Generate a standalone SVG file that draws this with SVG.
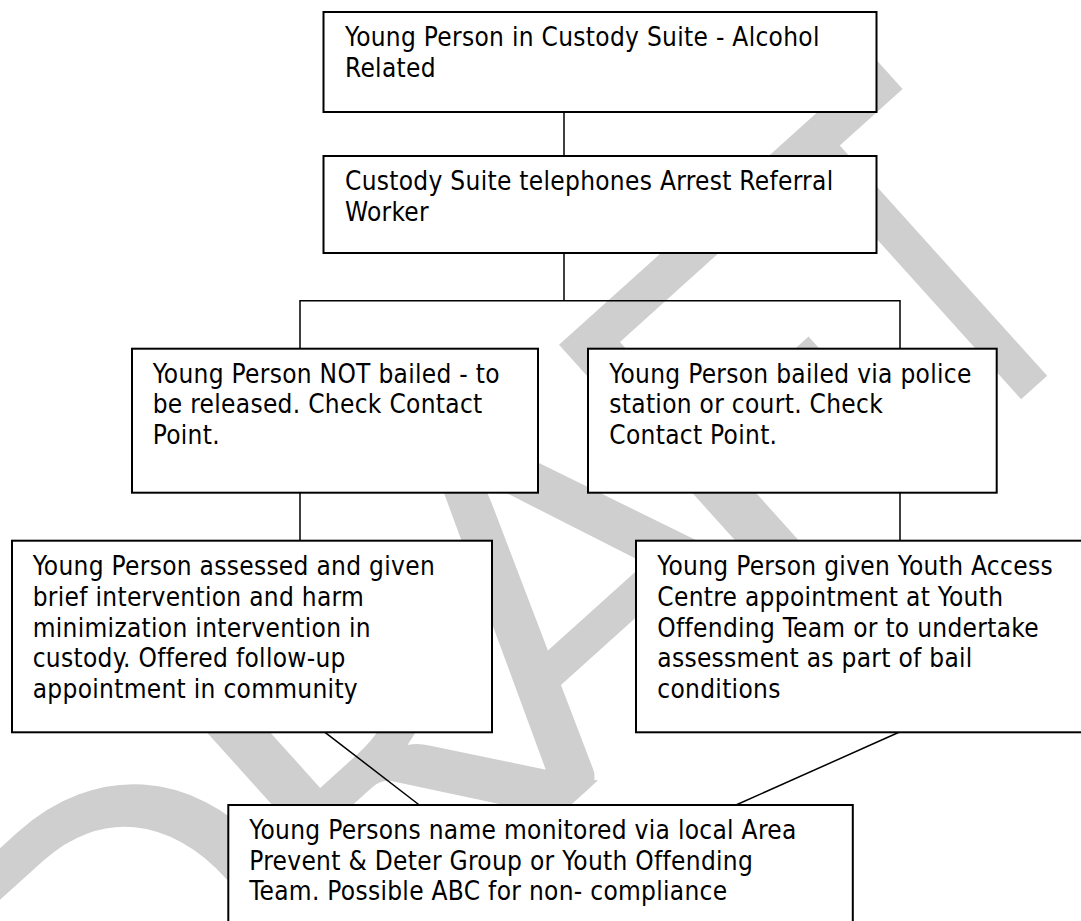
<svg xmlns="http://www.w3.org/2000/svg" width="1081" height="921" viewBox="0 0 1081 921">
<style>
.wm{font-family:Lato,"Open Sans",sans-serif;font-size:488px;fill:#cfcfcf}
.box{fill:#ffffff;stroke:#000000;stroke-width:2}
.lbl{font-family:"DejaVu Sans Condensed","DejaVu Sans",sans-serif;font-stretch:condensed;font-size:26px;letter-spacing:0.3px;fill:#000000}
.conn{fill:none;stroke:#000000;stroke-width:1.5}
</style>
<rect width="1081" height="921" fill="#ffffff"/>
<g id="watermark" transform="rotate(-42)">
<text class="wm" x="-719" y="980">D</text>
<text class="wm" x="-381" y="980">R</text>
<text class="wm" x="-128" y="980">A</text>
<text class="wm" x="140" y="980">F</text>
<text class="wm" x="401.5" y="980" textLength="215" lengthAdjust="spacingAndGlyphs">T</text>
</g>
<g id="connectors">
<path class="conn" d="M564 112V156"/>
<path class="conn" d="M564 253V300.7"/>
<path class="conn" d="M300 348.7V300.7H900V348.7"/>
<path class="conn" d="M300 492.7V540.7"/>
<path class="conn" d="M900 492.7V540.7"/>
<path class="conn" d="M325 732.3L419.3 805"/>
<path class="conn" d="M899 732.3L736 805"/>
</g>
<g id="n1">
<rect class="box" x="323.5" y="12" width="553" height="100"/>
<text class="lbl" x="345" y="46">Young Person in Custody Suite - Alcohol</text>
<text class="lbl" x="345" y="77">Related</text>
</g>
<g id="n2">
<rect class="box" x="323.5" y="156" width="553" height="97"/>
<text class="lbl" x="345" y="190">Custody Suite telephones Arrest Referral</text>
<text class="lbl" x="345" y="221">Worker</text>
</g>
<g id="n3">
<rect class="box" x="132" y="348.7" width="406" height="144"/>
<text class="lbl" x="152.7" y="382.7">Young Person NOT bailed - to</text>
<text class="lbl" x="152.7" y="413.4">be released. Check Contact</text>
<text class="lbl" x="152.7" y="444.1">Point.</text>
</g>
<g id="n4">
<rect class="box" x="588" y="348.7" width="408.7" height="144"/>
<text class="lbl" x="609.3" y="382.7">Young Person bailed via police</text>
<text class="lbl" x="609.3" y="413.4">station or court. Check</text>
<text class="lbl" x="609.3" y="444.1">Contact Point.</text>
</g>
<g id="n5">
<rect class="box" x="12" y="540.7" width="480" height="191.6"/>
<text class="lbl" x="32.7" y="575">Young Person assessed and given</text>
<text class="lbl" x="32.7" y="605.8">brief intervention and harm</text>
<text class="lbl" x="32.7" y="636.6">minimization intervention in</text>
<text class="lbl" x="32.7" y="667.4">custody. Offered follow-up</text>
<text class="lbl" x="32.7" y="698.2">appointment in community</text>
</g>
<g id="n6">
<rect class="box" x="636" y="540.7" width="460" height="191.6"/>
<text class="lbl" x="657.3" y="575">Young Person given Youth Access</text>
<text class="lbl" x="657.3" y="605.8">Centre appointment at Youth</text>
<text class="lbl" x="657.3" y="636.6">Offending Team or to undertake</text>
<text class="lbl" x="657.3" y="667.4">assessment as part of bail</text>
<text class="lbl" x="657.3" y="698.2">conditions</text>
</g>
<g id="n7">
<rect class="box" x="228.3" y="805" width="624.5" height="130"/>
<text class="lbl" x="249.3" y="839">Young Persons name monitored via local Area</text>
<text class="lbl" x="249.3" y="869.7">Prevent &amp; Deter Group or Youth Offending</text>
<text class="lbl" x="249.3" y="900.4">Team. Possible ABC for non- compliance</text>
</g>
</svg>
